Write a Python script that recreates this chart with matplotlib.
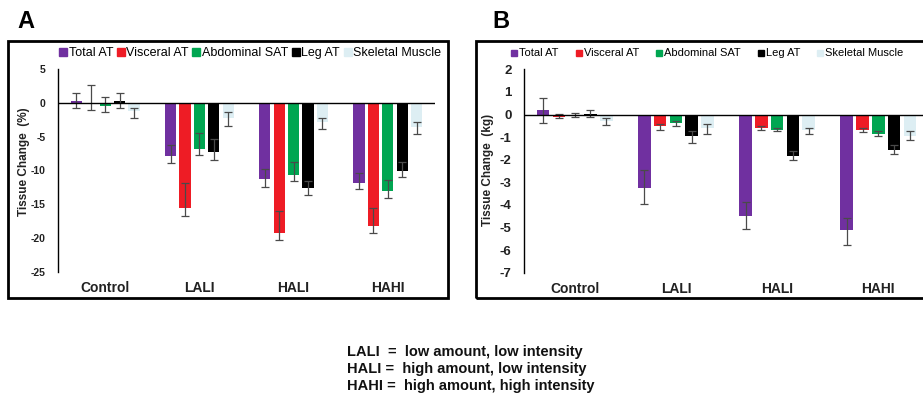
import numpy as np
import matplotlib
matplotlib.use('Agg')
import matplotlib.pyplot as plt
from matplotlib.lines import Line2D
from matplotlib.patches import Rectangle

plt.rcParams['font.family'] = ['Liberation Sans', 'DejaVu Sans']

groups = ['Control', 'LALI', 'HALI', 'HAHI']
tissues = ['Total AT', 'Visceral AT', 'Abdominal SAT', 'Leg AT', 'Skeletal Muscle']
colors = ['#7030A0', '#EE1C25', '#00A651', '#000000', '#DDEEF3']

# panel A: percent change, rows = tissue, cols = group
pct = [[0.2, -7.9, -11.3, -11.8],
       [-0.1, -15.5, -19.3, -18.2],
       [-0.4, -6.8, -10.6, -13.0],
       [0.2, -7.2, -12.6, -10.0],
       [-1.2, -2.3, -2.8, -3.5]]
pct_top = [[1.5, -6.2, -9.8, -10.3],
           [2.7, -11.9, -16.0, -15.6],
           [0.9, -4.4, -8.8, -11.4],
           [1.4, -5.4, -11.5, -8.8],
           [-0.7, -1.4, -2.2, -2.8]]
pct_bot = [[-0.7, -8.9, -12.4, -12.8],
           [-1.1, -16.7, -20.2, -19.3],
           [-1.3, -7.7, -11.6, -14.1],
           [-0.8, -8.4, -13.6, -11.0],
           [-2.3, -3.4, -3.9, -4.6]]

# panel B: kg change
kg = [[0.18, -3.24, -4.48, -5.13],
      [-0.09, -0.53, -0.59, -0.68],
      [-0.05, -0.37, -0.68, -0.85],
      [0.02, -0.97, -1.83, -1.56],
      [-0.3, -0.6, -0.7, -0.93]]
kg_top = [[0.72, -2.44, -3.87, -4.57],
          [0.03, -0.44, -0.49, -0.59],
          [0.05, -0.27, -0.59, -0.74],
          [0.2, -0.74, -1.62, -1.34],
          [-0.15, -0.41, -0.59, -0.74]]
kg_bot = [[-0.37, -3.95, -5.05, -5.76],
          [-0.15, -0.7, -0.68, -0.78],
          [-0.1, -0.53, -0.74, -0.97],
          [-0.12, -1.27, -2.03, -1.75],
          [-0.47, -0.85, -0.87, -1.12]]

W, H = 923, 397
fig = plt.figure(figsize=(W / 100, H / 100), dpi=100)

def fx(px): return px / W
def fy(py): return 1 - py / H

def panel(rect, vals, tops, bots, ylim, yticks, step, width, tick_fs, leg_fs, colsp, leg_x, msize):
    ax = fig.add_axes(rect)
    x = np.arange(len(groups))
    for i in range(len(tissues)):
        v = np.array(vals[i])
        lo = v - np.array(bots[i])
        hi = np.array(tops[i]) - v
        xi = x + (i - 2) * step
        ax.bar(xi, v, width, color=colors[i], zorder=2)
        ax.errorbar(xi, v, yerr=[lo, hi], fmt='none', ecolor='#4a4a4a',
                    elinewidth=0.9, capsize=3, capthick=0.9, zorder=3)
    ax.axhline(0, color='black', lw=1, zorder=4)
    ax.set_xlim(-0.5, 3.5)
    ax.set_ylim(*ylim)
    ax.set_yticks(yticks)
    ax.set_yticklabels([str(t) for t in yticks], fontweight='bold', fontsize=tick_fs,
                       color='#222222')
    ax.tick_params(axis='y', length=0, pad=9)
    ax.set_xticks([])
    for s in ['top', 'right', 'bottom']:
        ax.spines[s].set_visible(False)
    ax.spines['left'].set_linewidth(1)
    for k, g in enumerate(groups):
        ax.text(k, -0.08, g, transform=ax.get_xaxis_transform(), ha='center', va='center',
                fontsize=10, fontweight='bold', color='#222222')
    handles = [Line2D([], [], marker='s', ls='', color=c, markersize=msize) for c in colors]
    ax.legend(handles, tissues, ncol=5, loc='center', bbox_to_anchor=(leg_x, 1.078),
              frameon=False, fontsize=leg_fs, handlelength=0.6, handletextpad=0.15,
              columnspacing=colsp, borderaxespad=0)
    return ax

panel([fx(58), fy(272), fx(377), (272 - 69) / H], pct, pct_top, pct_bot,
      (-25, 5), [5, 0, -5, -10, -15, -20, -25], 0.153, 0.118, 7.5, 9, 0.3, 0.51, 5.5)
panel([fx(524), fy(272.7), fx(405), (272.7 - 69.3) / H], kg, kg_top, kg_bot,
      (-7, 2), [2, 1, 0, -1, -2, -3, -4, -5, -6, -7], 0.156, 0.125, 9.5, 8, 1.5, 0.452, 4.5)

fig.text(fx(24), fy(162), 'Tissue Change  (%)', rotation=90, ha='center', va='center',
         fontsize=8.5, fontweight='bold', color='#222222')
fig.text(fx(488), fy(170), 'Tissue Change  (kg)', rotation=90, ha='center', va='center',
         fontsize=8.5, fontweight='bold', color='#222222')

fig.add_artist(Rectangle((fx(8), fy(298)), fx(440), 257 / H, transform=fig.transFigure,
                         fill=False, lw=2, ec='black'))
fig.add_artist(Rectangle((fx(476), fy(298)), fx(470), 257 / H, transform=fig.transFigure,
                         fill=False, lw=2, ec='black'))

fig.text(fx(26), fy(21), 'A', ha='center', va='center', fontsize=17, fontweight='bold')
fig.text(fx(501), fy(21), 'B', ha='center', va='center', fontsize=17, fontweight='bold')

notes = ['LALI  =  low amount, low intensity',
         'HALI =  high amount, low intensity',
         'HAHI =  high amount, high intensity']
for k, t in enumerate(notes):
    fig.text(fx(347), fy(352 + 17 * k), t, ha='left', va='center', fontsize=10.5,
             fontweight='bold', color='#111111')

fig.savefig('out.png', dpi=100)
